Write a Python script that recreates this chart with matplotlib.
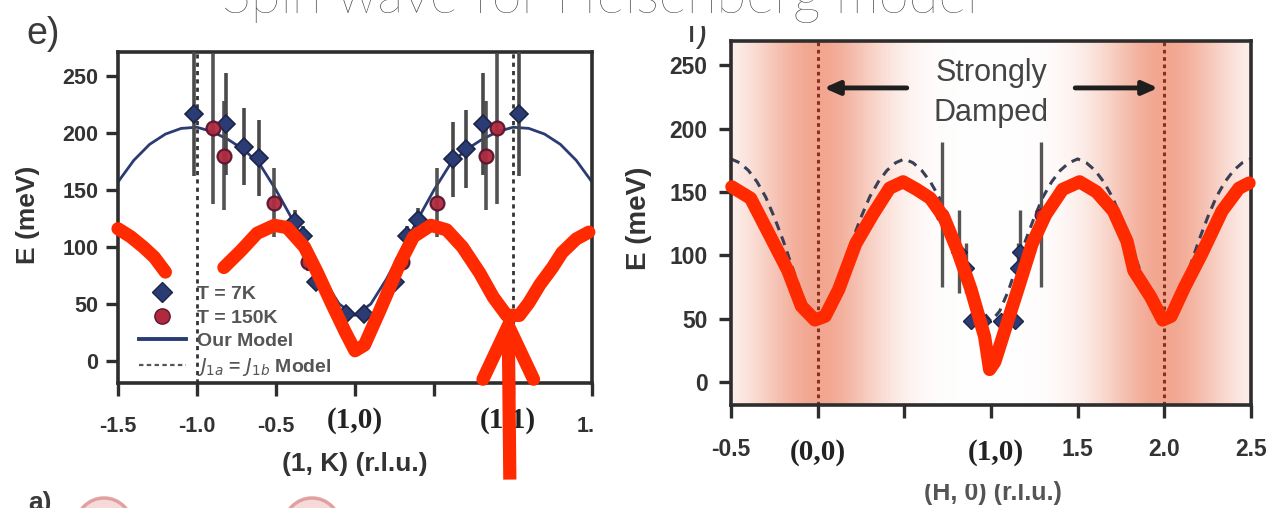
import numpy as np
import matplotlib
matplotlib.use("Agg")
import matplotlib.pyplot as plt
from matplotlib.patches import Rectangle, Ellipse
from matplotlib.lines import Line2D
from matplotlib.colors import to_rgb

plt.rcParams["axes.unicode_minus"] = False
plt.rcParams["font.family"] = ["Liberation Sans", "DejaVu Sans"]

W, H = 1287, 508

# ---------------- panel e: dispersion along (1, K) ----------------
k_ticks = [-1.5, -1.0, -0.5, 0.0, 0.5, 1.0, 1.5]
# the centre positions carry the (1,0) / (1,1) point labels instead
k_ticklabels = ["-1.5", "-1.0", "-0.5", "", "", "", "1.5"]
e_ticks = [0, 50, 100, 150, 200, 250]

# T = 7K (diamonds)
k_7K = [-1.02, -0.815, -0.70, -0.605, -0.38, -0.33, -0.25, -0.06,
        0.06, 0.25, 0.33, 0.40, 0.62, 0.70, 0.81, 1.04]
e_7K = [217, 208, 188, 178, 122, 110, 69, 41,
        41, 69, 110, 124, 177, 186, 208, 217]
err_7K = [55, 45, 34, 33, 10, 8, 5, 4, 4, 5, 8, 10, 33, 34, 45, 55]

# T = 150K (circles)
k_150K = [-0.90, -0.83, -0.51, -0.30, 0.30, 0.52, 0.83, 0.90]
e_150K = [204, 180, 139, 87, 87, 139, 180, 204]
err_150K = [66, 48, 30, 8, 8, 30, 48, 66]

# "Our Model" curve
k_model = [-1.5, -1.4, -1.3, -1.2, -1.1, -1.0, -0.9, -0.8, -0.7, -0.6, -0.5,
           -0.4, -0.3, -0.2, -0.1, 0.0, 0.1, 0.2, 0.3, 0.4, 0.5, 0.6, 0.7,
           0.8, 0.9, 1.0, 1.1, 1.2, 1.3, 1.4, 1.5]
e_model = [157, 176, 190, 199, 204, 205, 201, 194, 185, 172, 150,
           125, 98, 72, 50, 40, 50, 72, 98, 125, 150, 172, 185,
           194, 201, 205, 204, 199, 190, 176, 157]

# hand-drawn red dispersion over panel e
red_k1 = [-1.50, -1.42, -1.34, -1.27, -1.20]
red_e1 = [116, 109, 100, 91, 78]
red_k2 = [-0.83, -0.72, -0.62, -0.51, -0.43, -0.32, -0.24, -0.15, -0.06, 0.0,
          0.06, 0.15, 0.20, 0.285, 0.37, 0.48, 0.58, 0.68, 0.79, 0.875, 0.96,
          1.04, 1.10, 1.17, 1.25, 1.31, 1.40, 1.48]
red_e2 = [82, 97, 112, 119, 117, 100, 78, 51, 25, 9,
          14, 42, 58, 86, 109, 119, 115, 100, 77, 56, 40,
          40, 51, 67, 82, 95, 107, 113]

# ---------------- panel f: dispersion along (H, 0) ----------------
h_ticks = [-0.5, 0.0, 0.5, 1.0, 1.5, 2.0, 2.5]
# the 0.0 and 1.0 positions carry the (0,0) / (1,0) point labels instead
h_ticklabels = ["-0.5", "", "", "", "1.5", "2.0", "2.5"]

h_dash = [-0.50, -0.45, -0.40, -0.35, -0.30, -0.25, -0.20, -0.15, -0.10, -0.05,
          0.00, 0.05, 0.10, 0.15, 0.20, 0.25, 0.30, 0.35, 0.40, 0.45,
          0.50, 0.55, 0.60, 0.65, 0.70, 0.75, 0.80, 0.85, 0.90, 0.95,
          1.00, 1.05, 1.10, 1.15, 1.20, 1.25, 1.30, 1.35, 1.40, 1.45,
          1.50, 1.55, 1.60, 1.65, 1.70, 1.75, 1.80, 1.85, 1.90, 1.95,
          2.00, 2.05, 2.10, 2.15, 2.20, 2.25, 2.30, 2.35, 2.40, 2.45, 2.50]
e_dash = [176, 173, 167, 158, 146, 130, 112, 92, 72, 56,
          48, 56, 72, 92, 112, 130, 146, 158, 167, 173,
          176, 173, 167, 158, 146, 130, 112, 92, 72, 56,
          48, 56, 72, 92, 112, 130, 146, 158, 167, 173,
          176, 173, 167, 158, 146, 130, 112, 92, 72, 56,
          48, 56, 72, 92, 112, 130, 146, 158, 167, 173, 176]

h_f7K = [0.817, 0.857, 0.886, 0.954, 1.057, 1.137, 1.155, 1.17]
e_f7K = [103, 90, 48, 48, 48, 48, 90, 103]
err_f7K = [33, 20, 4, 4, 4, 4, 20, 33]
h_f150K = [0.72, 1.29]
e_f150K = [132, 132]
err_f150K = [57, 57]

damped_centres = [0.0, 2.0]

red_h = [-0.495, -0.387, -0.27, -0.172, -0.094, -0.016, 0.043, 0.121, 0.219,
         0.317, 0.415, 0.493, 0.571, 0.650, 0.728, 0.806, 0.885, 0.963,
         0.992, 1.022, 1.08, 1.159, 1.237, 1.315, 1.413, 1.511, 1.609,
         1.706, 1.785, 1.824, 1.922, 1.99, 2.039, 2.117, 2.215, 2.333,
         2.431, 2.489]
red_e = [154, 145, 114, 88, 60, 49, 52, 73, 109,
         132, 153, 158, 152, 145, 130, 104, 73, 36,
         10, 16, 41, 75, 109, 132, 152, 158, 150,
         135, 111, 88, 67, 49, 52, 75, 101, 135,
         153, 157]

# ---------------- styling ----------------
NAVY = "#2B3C74"
CRIM = "#B02A3E"
RED = "#FF2A00"
FRAME = "#2E2E2E"
TXT = "#333333"
SALMON = "#F2A690"


def fx(px):
    return px / W


def fy(py):
    return 1 - py / H


fig = plt.figure(figsize=(W / 100, H / 100), dpi=100)
fig.patch.set_facecolor("white")


def style_axes(ax, tick_fs):
    for s in ax.spines.values():
        s.set_color(FRAME)
        s.set_linewidth(2.6)
    ax.tick_params(direction="out", length=9, width=2.4, color=FRAME,
                   labelsize=tick_fs, labelcolor=TXT)
    for lab in ax.get_xticklabels() + ax.get_yticklabels():
        lab.set_fontweight("bold")


# ---- panel e ----
ax1 = fig.add_axes([fx(118), fy(383), fx(592 - 118), (383 - 52) / H])
ax1.set_xlim(-1.5, 1.5)
ax1.set_ylim(-19.3, 271)
ax1.set_xticks(k_ticks)
ax1.set_xticklabels(k_ticklabels)
ax1.set_yticks(e_ticks)
style_axes(ax1, 15.5)
ax1.tick_params(axis="x", pad=15)
ax1.tick_params(axis="y", pad=5)

for kv in (-1.0, 1.0):
    ax1.axvline(kv, color="#333333", lw=2.0, ls=(0, (1.5, 1.5)), zorder=1)
ax1.plot(k_model, e_model, color=NAVY, lw=2.0, zorder=2)
ax1.errorbar(k_7K, e_7K, yerr=err_7K, fmt="D", ms=9.5, mfc=NAVY, mec="#1C2547",
             mew=1.2, ecolor="#4A4A4A", elinewidth=2.6, capsize=0, zorder=3)
ax1.errorbar(k_150K, e_150K, yerr=err_150K, fmt="o", ms=10, mfc=CRIM,
             mec="#5A1530", mew=1.6, ecolor="#4A4A4A", elinewidth=2.6,
             capsize=0, zorder=3, alpha=0.95)

handles = [
    Line2D([], [], marker="D", ls="none", ms=10, mfc=NAVY, mec="#1C2547"),
    Line2D([], [], marker="o", ls="none", ms=11, mfc=CRIM, mec="#5A1530"),
    Line2D([], [], color=NAVY, lw=2.8),
    Line2D([], [], color="#555555", lw=1.6, ls=(0, (2, 1.5))),
]
labels = ["T = 7K", "T = 150K", "Our Model", r"$J_{1a}$ = $J_{1b}$ Model"]
leg = ax1.legend(handles, labels, loc="lower left",
                 bbox_to_anchor=(0.02, -0.02), frameon=False,
                 prop={"size": 14, "weight": "bold"}, labelspacing=0.3,
                 handlelength=2.4, handletextpad=0.55, borderaxespad=0.2)
for t in leg.get_texts():
    t.set_color("#555555")

ax1.set_ylabel("E (meV)", fontsize=19, fontweight="bold", color=TXT)
ax1.yaxis.set_label_coords((40 - 118) / 474, (383 - 215) / 331)
ax1.set_xlabel("(1, K) (r.l.u.)", fontsize=19, fontweight="bold", color=TXT)
ax1.xaxis.set_label_coords(0.5, (383 - 452) / 331)

ax1.plot(red_k1, red_e1, color=RED, lw=9.5, solid_capstyle="round",
         solid_joinstyle="round", zorder=6, clip_on=False)
ax1.plot(red_k2, red_e2, color=RED, lw=9.5, solid_capstyle="round",
         solid_joinstyle="round", zorder=6, clip_on=False)

# ---- panel f ----
ax2 = fig.add_axes([fx(731), fy(405), fx(1251 - 731), (405 - 41) / H])
ax2.set_xlim(-0.5, 2.5)
ax2.set_ylim(-18, 269)
ax2.set_xticks(h_ticks)
ax2.set_xticklabels(h_ticklabels)
ax2.set_yticks(e_ticks)
style_axes(ax2, 16.5)
ax2.tick_params(axis="x", pad=15)
ax2.tick_params(axis="y", pad=8)

# damping shade, strongest around the zone centres
hh = np.linspace(-0.5, 2.5, 600)
dist = np.min(np.abs(hh[None, :] - np.array(damped_centres)[:, None]), axis=0)
weight = np.exp(-(dist / 0.38) ** 2)
c0 = np.array(to_rgb("white"))
c1 = np.array(to_rgb(SALMON))
img = c0[None, None, :] * (1 - weight[None, :, None]) + c1[None, None, :] * weight[None, :, None]
ax2.imshow(img, extent=[-0.5, 2.5, -18, 269], aspect="auto", zorder=0,
           interpolation="bilinear")
for hv in damped_centres:
    ax2.axvline(hv, color="#8A3020", lw=2.2, ls=(0, (1.2, 1.2)), zorder=1)

ax2.plot(h_dash, e_dash, color="#3A3F55", lw=2.2, ls=(0, (3, 2.2)), zorder=2)
ax2.errorbar(h_f7K, e_f7K, yerr=err_f7K, fmt="D", ms=8, mfc=NAVY, mec="#1C2547",
             ecolor="#555555", elinewidth=2.4, capsize=0, zorder=3)
ax2.errorbar(h_f150K, e_f150K, yerr=err_f150K, fmt="o", ms=9, mfc=CRIM,
             mec="#5A1530", ecolor="#555555", elinewidth=2.4, capsize=0, zorder=3)

ax2.text(1.0, 244, "Strongly", ha="center", va="center", fontsize=22,
         color="#444444", zorder=4)
ax2.text(1.0, 212, "Damped", ha="center", va="center", fontsize=22,
         color="#444444", zorder=4)
arrow_kw = dict(arrowstyle="-|>,head_length=0.9,head_width=0.4", lw=3.5,
                color="#1E1E1E")
ax2.annotate("", xy=(0.02, 232), xytext=(0.53, 232), arrowprops=arrow_kw, zorder=4)
ax2.annotate("", xy=(1.98, 232), xytext=(1.47, 232), arrowprops=arrow_kw, zorder=4)

ax2.set_ylabel("E (meV)", fontsize=20, fontweight="bold", color=TXT)
ax2.yaxis.set_label_coords((652 - 731) / 520, (405 - 218) / 364)
ax2.set_xlabel("(H, 0) (r.l.u.)", fontsize=18, fontweight="bold", color="#555555")
ax2.xaxis.set_label_coords(0.504, (405 - 481) / 364)

ax2.plot(red_h, red_e, color=RED, lw=9.5, solid_capstyle="round",
         solid_joinstyle="round", zorder=6, clip_on=False)

# ---- panel letters ----
fig.text(fx(43), fy(34), "e)", fontsize=27, color="#3A3A3A", ha="center", va="center")
fig.text(fx(697), fy(42), "f)", fontsize=25, color="#3A3A3A", ha="center",
         va="baseline")
fig.text(fx(40), fy(503), "a)", fontsize=19, color="#3A3A3A", ha="center",
         va="center", fontweight="bold")
for cxp in (104, 312):
    fig.add_artist(Ellipse((fx(cxp), fy(526)), 56 / W, 56 / H,
                           transform=fig.transFigure, facecolor="#F6DADA",
                           edgecolor="#E3A0A0", lw=2.5))

# ---- overlay boxes and labels ----
def white_box(x0, y0, x1, y1, z=10):
    fig.add_artist(Rectangle((fx(x0), fy(y1)), (x1 - x0) / W, (y1 - y0) / H,
                             transform=fig.transFigure, facecolor="white",
                             edgecolor="none", zorder=z))

white_box(200, 0, 1010, 26)            # title strip
white_box(594, 398, 640, 447)          # panel e cut edge
white_box(858, 428, 1042, 484)         # under the (1,0) label of panel f

title = fig.text(fx(600), fy(13), "Spin wave for Heisenberg model",
                 fontsize=36, color="#333333", ha="center", va="baseline",
                 family=["Lato", "DejaVu Sans"], fontweight="light", zorder=12)
renderer = fig.canvas.get_renderer()
tw = title.get_window_extent(renderer).width
title.set_fontsize(36 * 755 / tw)

lab_kw = dict(fontsize=21, fontweight="bold", family=["Liberation Serif", "DejaVu Serif"],
              color="#222222", ha="center", va="center", zorder=11)
fig.text(fx(355), fy(420), "(1,0)", **lab_kw)
fig.text(fx(508), fy(420), "(1,1)", **lab_kw)
fig.text(fx(818), fy(453), "(0,0)", **lab_kw)
fig.text(fx(996), fy(453), "(1,0)", **lab_kw)

# red arrow pointing at the (1,1) gap
tip_k, tip_e = 0.97, 31
shaft = Line2D([tip_k, tip_k + 0.01], [tip_e, -104], transform=ax1.transData,
               color=RED, lw=9.5, solid_capstyle="butt", zorder=13)
head = Line2D([tip_k - 0.16, tip_k, tip_k + 0.16], [-16, tip_e, -16],
              transform=ax1.transData, color=RED, lw=9.5,
              solid_capstyle="round", solid_joinstyle="miter", zorder=13)
fig.add_artist(shaft)
fig.add_artist(head)

fig.savefig("out.png", dpi=100, facecolor="white")
